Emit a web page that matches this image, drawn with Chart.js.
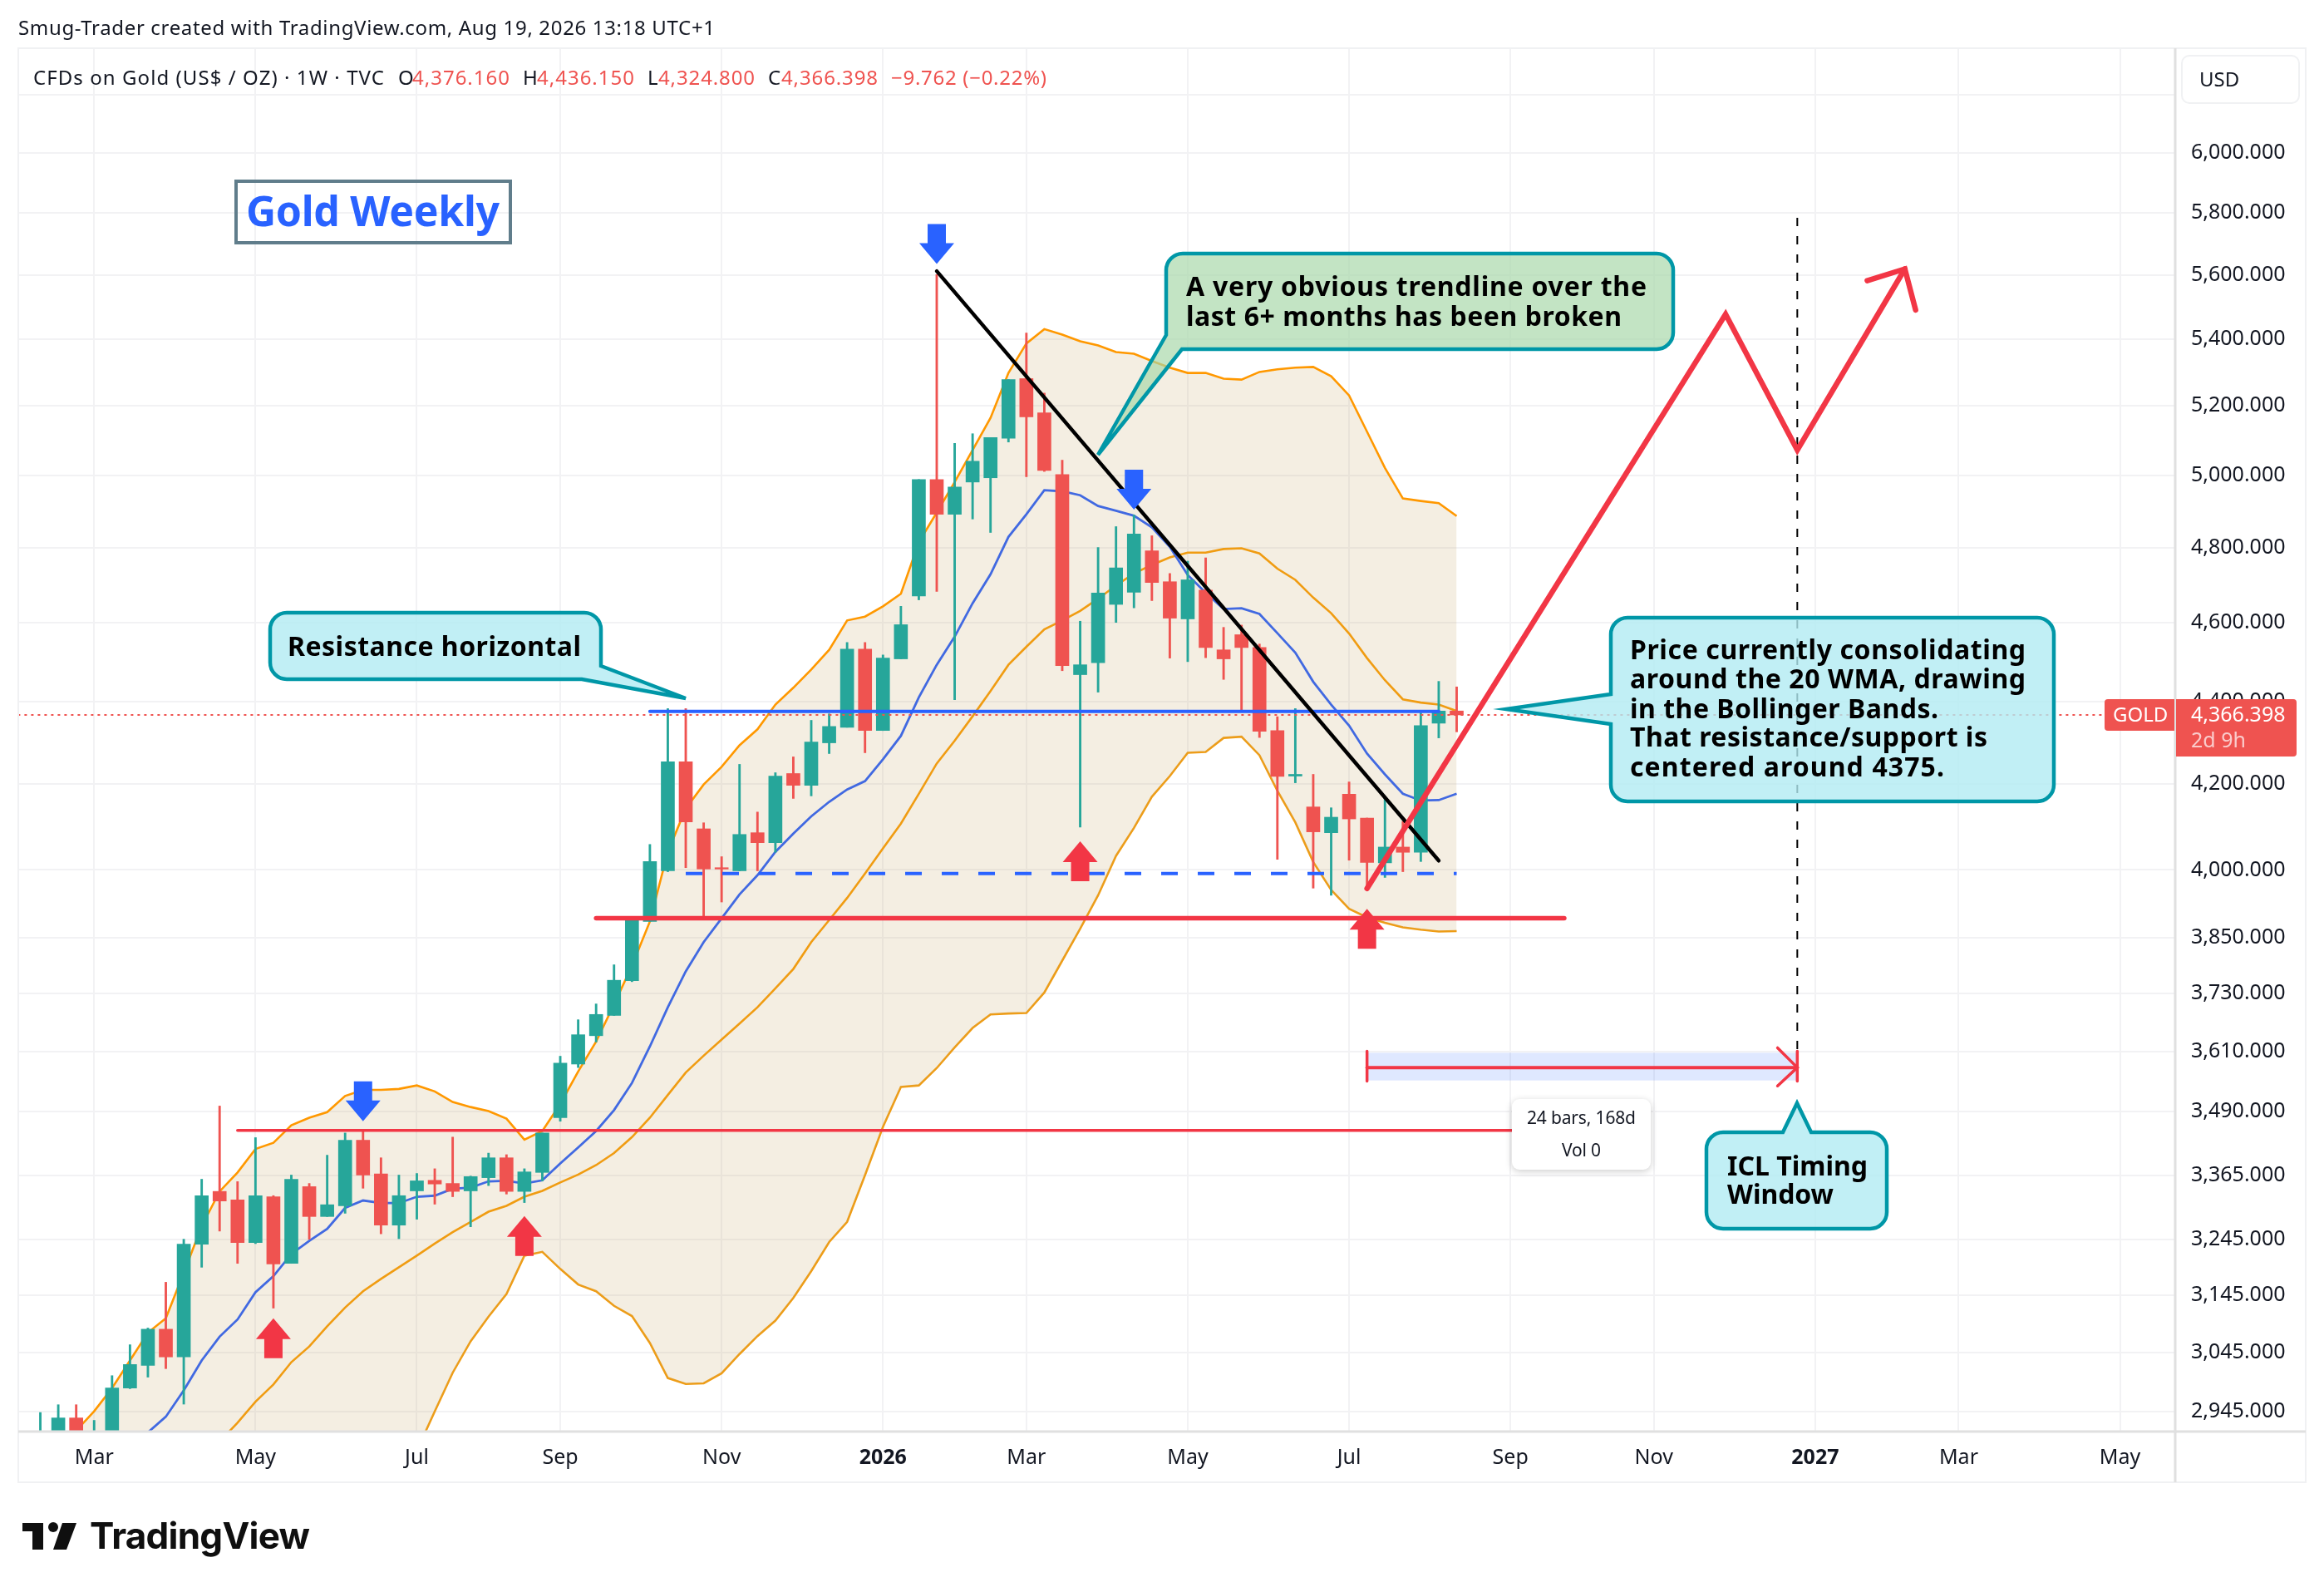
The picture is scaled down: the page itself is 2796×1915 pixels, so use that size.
<!DOCTYPE html>
<html>
<head>
<meta charset="utf-8">
<title>Gold Weekly</title>
<script src="https://cdn.jsdelivr.net/npm/chart.js@4/dist/chart.umd.min.js"></script>
<style>
  html, body { margin: 0; padding: 0; background: #fff; }
  canvas { display: block; }
</style>
</head>
<body>
<canvas id="chart" width="2796" height="1915"></canvas>
<script>
// weekly candles, index 0 is the first bar at the left edge
const opens = [2870, 2895, 2934, 2895, 2905, 2984, 3022.5, 3085, 3037, 3237,
  3335, 3319, 3240, 3325, 3202, 3344, 3288, 3308, 3433, 3368,
  3272, 3336, 3356, 3350, 3336, 3361, 3399, 3335, 3371, 3477,
  3584, 3642, 3684, 3757, 3885, 3998, 4252, 4094, 4005, 3998,
  4085, 4062, 4224, 4196, 4298, 4336, 4532, 4328, 4507, 4670,
  4988, 4891, 4981, 4993, 5106, 5281, 5180, 5002, 4467, 4497,
  4648, 4680, 4791, 4708, 4610, 4686, 4530, 4569, 4536, 4328,
  4218, 4145, 4085, 4175, 4119, 4016, 4052, 4040, 4346, 4376.16];
const highs = [2943, 2956, 2956, 2930, 3005, 3058, 3087, 3168, 3246, 3358,
  3500, 3353.5, 3438, 3327, 3366, 3350, 3404, 3447, 3451, 3399,
  3366, 3369, 3378, 3439, 3364, 3408, 3405, 3378, 3447, 3600,
  3675, 3708, 3791, 3895, 4058, 4382, 4382, 4108, 4030, 4246,
  4133, 4226, 4264, 4353, 4369, 4549, 4549, 4517, 4643, 4988,
  5601, 5091, 5119, 5108, 5278, 5419, 5238, 5043, 4604, 4800,
  4857, 4889, 4832, 4730, 4763, 4772, 4588, 4594, 4545, 4362,
  4382, 4222, 4143, 4204, 4119, 4165, 4111, 4371, 4450, 4436.15];
const lows = [2840, 2880, 2885, 2885, 2895, 2983, 3002.5, 3017, 2957, 3195,
  3261, 3202, 3238, 3122, 3202, 3246, 3288, 3294, 3341, 3256,
  3247, 3283, 3311, 3325, 3269, 3346, 3330, 3314, 3355, 3470,
  3577, 3629, 3684, 3755, 3885, 3996, 4005, 3894, 3928, 3998,
  3998, 4040, 4165, 4171, 4272, 4336, 4274, 4328, 4507, 4660,
  4682, 4404, 4878, 4841, 5095, 4996, 5011, 4477, 4098, 4423,
  4601, 4639, 4658, 4509, 4500, 4510, 4455, 4376, 4311, 4024,
  4202, 3959, 3943, 4022, 3955, 3983, 3996, 4019, 4310, 4324.8];
const closes = [2895, 2934, 2900, 2905, 2984, 3024, 3085, 3037, 3237, 3327,
  3317, 3240, 3327, 3201, 3358, 3288, 3310, 3433, 3366, 3272,
  3327, 3355, 3349, 3335, 3363, 3399, 3335, 3372, 3447, 3586,
  3644, 3686, 3758, 3892, 4019, 4252, 4110, 4002, 4002, 4081,
  4062, 4218, 4196, 4300, 4338, 4532, 4328, 4509, 4595, 4988,
  4891, 4967, 5040, 5108, 5278, 5168, 5014, 4490, 4492, 4678,
  4745, 4837, 4706, 4612, 4713, 4536, 4507, 4536, 4326, 4217,
  4222, 4087, 4121, 4117, 4017, 4052, 4040, 4340, 4376, 4366.398];

// bollinger bands and the 20 WMA (the first values lie below the visible range)
const bbUpper = [2830, 2860, 2913, 2945, 2984, 3031, 3079, 3104, 3185, 3270,
  3335, 3371, 3416, 3428, 3462, 3477, 3488, 3520, 3532, 3532,
  3534, 3541, 3529, 3508, 3498, 3490, 3475, 3434, 3451, 3504,
  3569, 3630, 3707, 3789, 3885, 4041, 4141, 4198, 4240, 4292,
  4331, 4392, 4434, 4480, 4530, 4606, 4616, 4643, 4676, 4814,
  4896, 4981, 5072, 5165, 5298, 5387, 5431, 5414, 5394, 5381,
  5361, 5356, 5334, 5314, 5298, 5298, 5281, 5278, 5301, 5309,
  5314, 5316, 5288, 5231, 5125, 5021, 4935, 4928, 4922, 4886];
const bbBasis = [null, null, null, null, null, null, null, null, null, null,
  2895, 2926, 2961, 2990, 3028, 3055, 3090, 3123, 3152, 3174,
  3195, 3216, 3238, 3259, 3278, 3297, 3308, 3325, 3336, 3352,
  3367, 3385, 3408, 3439, 3477, 3522, 3567, 3601, 3634, 3667,
  3701, 3741, 3782, 3840, 3888, 3937, 3992, 4049, 4106, 4176,
  4248, 4303, 4363, 4426, 4492, 4538, 4583, 4606, 4631, 4663,
  4698, 4730, 4753, 4773, 4786, 4786, 4796, 4798, 4784, 4743,
  4713, 4666, 4625, 4572, 4509, 4453, 4405, 4397, 4392, 4376];
const bbLower = [2620, 2640, 2650, 2670, 2690, 2700, 2720, 2730, 2740, 2750,
  2760, 2770, 2780, 2790, 2800, 2810, 2820, 2830, 2840, 2850,
  2860, 2880, 2945, 3010, 3064, 3107, 3147, 3216, 3223, 3192,
  3164, 3152, 3126, 3108, 3061, 3001, 2991, 2992, 3009, 3042,
  3073, 3100, 3140, 3188, 3241, 3278, 3366, 3459, 3538, 3541,
  3576, 3618, 3658, 3686, 3688, 3689, 3732, 3800, 3869, 3943,
  4032, 4096, 4169, 4218, 4274, 4276, 4310, 4313, 4268, 4183,
  4109, 4018, 3955, 3913, 3894, 3882, 3872, 3867, 3863, 3864];
const wma20 = [null, null, null, null, null, null, 2910, 2936, 2980, 3031,
  3072, 3102, 3150, 3179, 3219, 3243, 3265, 3304, 3318, 3313,
  3313, 3325, 3327, 3340, 3342, 3354, 3355, 3350, 3356, 3388,
  3419, 3451, 3492, 3546, 3620, 3701, 3777, 3840, 3892, 3945,
  3988, 4041, 4083, 4123, 4157, 4186, 4206, 4258, 4315, 4410,
  4492, 4564, 4651, 4728, 4829, 4891, 4958, 4955, 4944, 4914,
  4901, 4887, 4855, 4802, 4726, 4679, 4636, 4638, 4623, 4573,
  4523, 4449, 4392, 4340, 4272, 4222, 4176, 4160, 4161, 4176];

// axes
const xTickValues = [3, 12, 21, 29, 38, 47, 55, 64, 73, 82, 90, 99, 107, 116];
const xTickLabels = ['Mar', 'May', 'Jul', 'Sep', 'Nov', '2026', 'Mar', 'May', 'Jul', 'Sep', 'Nov', '2027', 'Mar', 'May'];
const yTickValues = [6200, 6000, 5800, 5600, 5400, 5200, 5000, 4800, 4600, 4400, 4200, 4000, 3850, 3730, 3610, 3490, 3365, 3245, 3145, 3045, 2945];

// drawings, bar index and price
const trendX = [50, 78];
const trendY = [5612, 4021];
const resistanceX = [34, 78];
const resistanceY = [4375, 4375];
const supportX = [36, 79];
const supportY = [3992, 3992];
const floorX = [31, 85];
const floorY = [3892, 3892];
const oldHighX = [11, 84];
const oldHighY = [3452, 3452];
const forecastX = [74, 94, 98, 104];
const forecastY = [3958, 5477, 5072, 5619];
const forecastHeadX = [101.9, 104, 104.6];
const forecastHeadY = [5582, 5619, 5490];
const windowX = [74, 98];
const windowY = [3577, 3577];
const windowTop = 3607;
const windowBottom = 3551;
const cycleLineX = [98, 98];
const cycleLineY = [5784, 3613];
const lastPrice = 4366.398;
const downArrows = [[50, 5635], [61, 4904], [18, 3470]];
const upArrows = [[13, 3104], [27, 3289], [58, 4065], [74, 3913]];

const FONT = '"Noto Sans", sans-serif';
const GREEN = '#26a69a';
const RED = '#ef5350';
const DRAW_RED = '#f23645';
const DRAW_BLUE = '#2962ff';
const ORANGE = '#ff9800';
const TEXT = '#131722';

function series(values) {
  return values.map((v, i) => ({ x: i, y: v }));
}

function segment(xs, ys, color, width, order, dash) {
  return {
    type: 'line',
    data: xs.map((x, i) => ({ x: x, y: ys[i] })),
    borderColor: color,
    borderWidth: width,
    borderDash: dash || [],
    borderCapStyle: dash ? 'butt' : 'round',
    borderJoinStyle: 'miter',
    pointRadius: 0,
    tension: 0,
    fill: false,
    order: order
  };
}

function band(values, color, width, order, fill) {
  return {
    type: 'line',
    data: series(values),
    borderColor: color,
    borderWidth: width,
    pointRadius: 0,
    tension: 0,
    fill: fill || false,
    backgroundColor: 'rgba(200, 170, 110, 0.2)',
    order: order
  };
}

const candleColors = closes.map((c, i) => (c >= opens[i] ? GREEN : RED));

const datasets = [
  // 0, the fill goes to the lower band in position 1
  band(bbUpper, ORANGE, 2.6, 12, { target: 1 }),
  band(bbLower, '#f09c12', 2.6, 12),
  band(bbBasis, '#f09c12', 2.6, 11),
  band(wma20, '#4169e1', 2.8, 10),
  {
    type: 'bar',
    data: lows.map((l, i) => ({ x: i, y: [l, highs[i]] })),
    backgroundColor: candleColors,
    barThickness: 2.2,
    grouped: false,
    order: 8
  },
  {
    type: 'bar',
    data: opens.map((o, i) => ({ x: i, y: [o, closes[i]] })),
    backgroundColor: candleColors,
    barThickness: 16,
    grouped: false,
    order: 7
  },
  segment([-2, 120], [lastPrice, lastPrice], RED, 2, 6, [3, 5]),
  segment(oldHighX, oldHighY, DRAW_RED, 3.5, 5),
  segment(supportX, supportY, DRAW_BLUE, 4, 5, [20, 24]),
  segment(resistanceX, resistanceY, DRAW_BLUE, 4, 5),
  segment(floorX, floorY, DRAW_RED, 5.5, 4),
  segment(trendX, trendY, '#000000', 4.5, 3),
  segment(cycleLineX, cycleLineY, '#000000', 2, 3, [10, 12]),
  segment(windowX, windowY, DRAW_RED, 4, 2),
  segment([74, 74], [3610, 3549.5], DRAW_RED, 3.5, 2),
  segment([98, 98], [3610, 3549.5], DRAW_RED, 3.5, 2),
  segment([96.9, 98, 96.9], [3617, 3577, 3540], DRAW_RED, 3.5, 2),
  segment(forecastX, forecastY, DRAW_RED, 6.5, 1),
  segment(forecastHeadX, forecastHeadY, DRAW_RED, 6.5, 1)
];

// rounded polygon, each vertex is [x, y, radius]
function roundPoly(ctx, pts) {
  const n = pts.length;
  const last = pts[n - 1];
  const first = pts[0];
  ctx.beginPath();
  ctx.moveTo((last[0] + first[0]) / 2, (last[1] + first[1]) / 2);
  for (let i = 0; i < n; i++) {
    const p = pts[i];
    const next = pts[(i + 1) % n];
    ctx.arcTo(p[0], p[1], next[0], next[1], p[2]);
  }
  ctx.closePath();
}

function callout(ctx, pts, fill) {
  roundPoly(ctx, pts);
  ctx.fillStyle = fill;
  ctx.fill();
  ctx.strokeStyle = '#0097a7';
  ctx.lineWidth = 4.5;
  ctx.lineJoin = 'miter';
  ctx.stroke();
}

// text with a letter spacing that makes it as wide as the original
function label(ctx, str, x, y, font, color, width) {
  ctx.font = font;
  ctx.fillStyle = color;
  ctx.textBaseline = 'middle';
  ctx.textAlign = 'left';
  ctx.letterSpacing = '0px';
  if (width) {
    const gap = (width - ctx.measureText(str).width) / (str.length - 1);
    ctx.letterSpacing = gap.toFixed(3) + 'px';
  }
  ctx.fillText(str, x, y + 2);
  ctx.letterSpacing = '0px';
}

function blockArrow(ctx, x, tip, dir, color) {
  const head = 25 * dir;
  const total = 48 * dir;
  ctx.fillStyle = color;
  ctx.beginPath();
  ctx.moveTo(x, tip);
  ctx.lineTo(x + 21, tip + head);
  ctx.lineTo(x + 11, tip + head);
  ctx.lineTo(x + 11, tip + total);
  ctx.lineTo(x - 11, tip + total);
  ctx.lineTo(x - 11, tip + head);
  ctx.lineTo(x - 21, tip + head);
  ctx.closePath();
  ctx.fill();
}

const drawings = {
  id: 'drawings',
  beforeDatasetsDraw(chart) {
    const { ctx, scales: { x, y } } = chart;
    // ICL timing window shading
    ctx.save();
    ctx.fillStyle = 'rgba(41, 98, 255, 0.15)';
    const left = x.getPixelForValue(windowX[0]);
    const right = x.getPixelForValue(windowX[1]);
    const top = y.getPixelForValue(windowTop);
    ctx.fillRect(left, top, right - left, y.getPixelForValue(windowBottom) - top);
    ctx.restore();
  },
  afterDraw(chart) {
    const { ctx, scales: { x, y } } = chart;
    ctx.save();

    // frame and axis lines
    ctx.strokeStyle = '#f0f1f3';
    ctx.lineWidth = 2;
    ctx.strokeRect(22, 58, 2752, 1725);
    ctx.strokeStyle = '#e0e0e0';
    ctx.lineWidth = 3;
    ctx.beginPath();
    ctx.moveTo(22, 1722);
    ctx.lineTo(2774, 1722);
    ctx.moveTo(2617, 58);
    ctx.lineTo(2617, 1783);
    ctx.stroke();

    // markers
    downArrows.forEach(a => blockArrow(ctx, x.getPixelForValue(a[0]), y.getPixelForValue(a[1]), -1, DRAW_BLUE));
    upArrows.forEach(a => blockArrow(ctx, x.getPixelForValue(a[0]), y.getPixelForValue(a[1]), 1, DRAW_RED));

    // header and legend
    label(ctx, 'Smug-Trader created with TradingView.com, Aug 19, 2026 13:18 UTC+1', 22, 33, '24px ' + FONT, TEXT, 838);
    label(ctx, 'CFDs on Gold (US$ / OZ) · 1W · TVC', 40, 93, '24px ' + FONT, TEXT, 422);
    label(ctx, 'O', 479, 93, '24px ' + FONT, TEXT);
    label(ctx, '4,376.160', 496, 93, '24px ' + FONT, RED, 117);
    label(ctx, 'H', 629, 93, '24px ' + FONT, TEXT);
    label(ctx, '4,436.150', 646, 93, '24px ' + FONT, RED, 117);
    label(ctx, 'L', 779, 93, '24px ' + FONT, TEXT);
    label(ctx, '4,324.800', 792, 93, '24px ' + FONT, RED, 116);
    label(ctx, 'C', 924, 93, '24px ' + FONT, TEXT);
    label(ctx, '4,366.398', 940, 93, '24px ' + FONT, RED, 116);
    label(ctx, '−9.762 (−0.22%)', 1072, 93, '24px ' + FONT, RED, 187);

    // title box
    ctx.strokeStyle = '#607d8b';
    ctx.lineWidth = 4;
    ctx.strokeRect(284, 218, 330, 74);
    label(ctx, 'Gold Weekly', 296, 256, 'bold 50px ' + FONT, DRAW_BLUE, 305);

    // USD button
    roundPoly(ctx, [[2625, 67, 9], [2766, 67, 9], [2766, 124, 9], [2625, 124, 9]]);
    ctx.strokeStyle = '#f0f1f3';
    ctx.lineWidth = 2;
    ctx.stroke();
    label(ctx, 'USD', 2646, 95, '24px ' + FONT, TEXT);

    // last price tags
    ctx.fillStyle = RED;
    roundPoly(ctx, [[2532, 841, 4], [2616, 841, 0], [2616, 879, 0], [2532, 879, 4]]);
    ctx.fill();
    roundPoly(ctx, [[2618, 841, 0], [2763, 841, 4], [2763, 910, 4], [2618, 910, 0]]);
    ctx.fill();
    label(ctx, 'GOLD', 2542, 859, '24px ' + FONT, '#ffffff');
    label(ctx, '4,366.398', 2636, 859, '25px ' + FONT, '#ffffff');
    label(ctx, '2d 9h', 2636, 890, '25px ' + FONT, 'rgba(255, 255, 255, 0.7)');

    // callouts
    const cyan = 'rgba(178, 235, 242, 0.8)';
    const bold = 'bold 32px ' + FONT;
    callout(ctx, [[1403, 305, 20], [2013, 305, 20], [2013, 420, 20], [1422, 420, 0], [1321, 547, 0], [1403, 403, 0]], 'rgba(165, 214, 167, 0.67)');
    label(ctx, 'A very obvious trendline over the', 1427, 345, bold, '#000', 554);
    label(ctx, 'last 6+ months has been broken', 1427, 381, bold, '#000', 524);

    callout(ctx, [[325, 737, 20], [723, 737, 20], [723, 801, 0], [825, 840, 0], [700, 817, 0], [325, 817, 20]], cyan);
    label(ctx, 'Resistance horizontal', 346, 778, bold, '#000', 353);

    callout(ctx, [[1938, 743, 20], [2471, 743, 20], [2471, 964, 20], [1938, 964, 20], [1938, 871, 0], [1812, 853, 0], [1938, 835, 0]], cyan);
    label(ctx, 'Price currently consolidating', 1961, 782, bold, '#000', 476);
    label(ctx, 'around the 20 WMA, drawing', 1961, 817, bold, '#000', 476);
    label(ctx, 'in the Bollinger Bands.', 1961, 853, bold, '#000', 371);
    label(ctx, 'That resistance/support is', 1961, 887, bold, '#000', 430);
    label(ctx, 'centered around 4375.', 1961, 923, bold, '#000', 378);

    callout(ctx, [[2053, 1362, 20], [2145, 1362, 0], [2162, 1327, 0], [2179, 1362, 0], [2270, 1362, 20], [2270, 1478, 20], [2053, 1478, 20]], cyan);
    label(ctx, 'ICL Timing', 2078, 1403, bold, '#000', 169);
    label(ctx, 'Window', 2078, 1437, bold, '#000', 128);

    // bars count tooltip
    ctx.save();
    ctx.shadowColor = 'rgba(0, 0, 0, 0.2)';
    ctx.shadowBlur = 8;
    ctx.shadowOffsetY = 2;
    roundPoly(ctx, [[1819, 1322, 9], [1986, 1322, 9], [1986, 1407, 9], [1819, 1407, 9]]);
    ctx.fillStyle = '#ffffff';
    ctx.fill();
    ctx.restore();
    label(ctx, '24 bars, 168d', 1837, 1344, '21px ' + FONT, TEXT, 131);
    label(ctx, 'Vol 0', 1879, 1383, '21px ' + FONT, TEXT, 47);

    // TradingView mark
    ctx.fillStyle = '#0f0f0f';
    ctx.beginPath();
    ctx.moveTo(27, 1832);
    ctx.lineTo(52, 1832);
    ctx.lineTo(52, 1864);
    ctx.lineTo(39, 1864);
    ctx.lineTo(39, 1842);
    ctx.lineTo(27, 1842);
    ctx.closePath();
    ctx.moveTo(75, 1832);
    ctx.lineTo(92, 1832);
    ctx.lineTo(80, 1864);
    ctx.lineTo(64, 1864);
    ctx.closePath();
    ctx.fill();
    ctx.beginPath();
    ctx.arc(64, 1837, 6, 0, Math.PI * 2);
    ctx.fill();
    label(ctx, 'TradingView', 108, 1848, '700 44px Inter, ' + FONT, '#0f0f0f', 265);

    ctx.restore();
  }
};

new Chart(document.getElementById('chart'), {
  type: 'bar',
  data: { datasets: datasets },
  plugins: [drawings],
  options: {
    responsive: false,
    animation: false,
    devicePixelRatio: 1,
    events: [],
    layout: { padding: { left: 22, top: 58, right: 22, bottom: 132 } },
    plugins: {
      legend: { display: false },
      tooltip: { enabled: false }
    },
    scales: {
      x: {
        type: 'linear',
        min: -1.23,
        max: 119.08,
        offset: false,
        grid: { offset: false, color: '#f2f2f4', lineWidth: 2, drawTicks: false },
        border: { display: false },
        afterFit(scale) { scale.height = 61; },
        afterBuildTicks(scale) { scale.ticks = xTickValues.map(v => ({ value: v })); },
        ticks: {
          autoSkip: false,
          maxRotation: 0,
          padding: 17,
          color: TEXT,
          font: c => ({ family: FONT, size: 25, weight: /^\d/.test(c.tick ? c.tick.label : '') ? 'bold' : 'normal' }),
          callback: v => xTickLabels[xTickValues.indexOf(v)]
        }
      },
      y: {
        type: 'logarithmic',
        position: 'right',
        min: 2911.5,
        max: 6366,
        grid: { color: '#f2f2f4', lineWidth: 2, drawTicks: false },
        border: { display: false },
        afterFit(scale) { scale.width = 157; },
        afterBuildTicks(scale) { scale.ticks = yTickValues.map(v => ({ value: v })); },
        ticks: {
          autoSkip: false,
          padding: 19,
          color: TEXT,
          font: { family: FONT, size: 25 },
          callback: v => (v > 6000 ? '' : v.toLocaleString('en-US', { minimumFractionDigits: 3 }))
        }
      }
    }
  }
});
</script>
</body>
</html>
